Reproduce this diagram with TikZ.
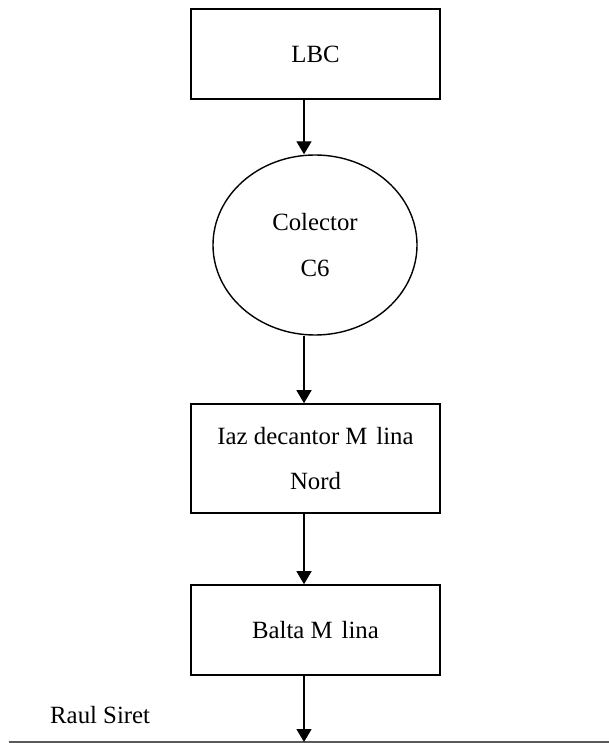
\documentclass[tikz,border=0pt]{standalone}
\usepackage{fontspec}
\setmainfont{Liberation Serif}
\usetikzlibrary{arrows.meta,shapes.geometric}
\begin{document}
\begin{tikzpicture}[x=1pt,y=-1pt,
  every node/.style={font=\fontsize{24.8}{45.5}\selectfont},
  box/.style={draw, line width=1.6pt, minimum width=249pt, inner sep=0pt, align=center},
  tank/.style={draw, ellipse, line width=1.4pt, minimum width=204pt, minimum height=180pt, inner sep=0pt, align=center},
  flow/.style={line width=1.4pt, -{Triangle[length=13pt,width=15pt]}},
  river/.style={line width=1.6pt, draw=black!65},
]
\useasboundingbox (0,0) rectangle (609,743);

% process chain
\node[box, minimum height=90pt] (lbc) at (315.5,54) {LBC};
\node[tank] (col) at (315,245) {Colector\\C6};
\node[box, minimum height=109pt] (iaz) at (315.5,458.5) {Iaz decantor M\hspace{0.36em}lina\\Nord};
\node[box, minimum height=90pt] (balta) at (315.5,630) {Balta M\hspace{0.36em}lina};

% receiving river
\coordinate (riverL) at (9,742);
\coordinate (riverR) at (609,742);
\draw[river] (riverL) -- (riverR);
\node[anchor=base west, inner sep=0pt] (siret) at (50,723) {Raul Siret};

% flow connectors
\draw[flow] ([xshift=-11.5pt]lbc.south) -- ([xshift=-11pt]col.north);
\draw[flow] ([xshift=-11pt]col.south) -- ([xshift=-11.5pt]iaz.north);
\draw[flow] ([xshift=-11.5pt]iaz.south) -- ([xshift=-11.5pt]balta.north);
\draw[flow] ([xshift=-11.5pt]balta.south) -- ([xshift=-11.5pt]balta.south |- riverL);
\end{tikzpicture}
\end{document}
